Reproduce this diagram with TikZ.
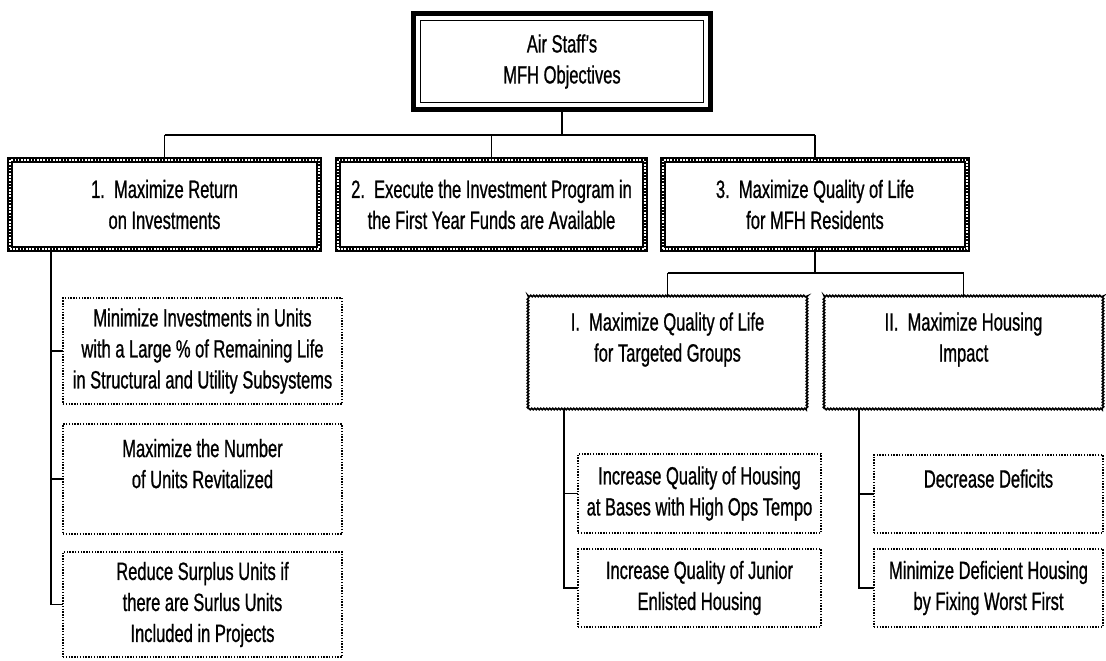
\documentclass[tikz,border=0pt]{standalone}
\usepackage{fontspec}
\setmainfont{Liberation Sans}[FakeStretch=0.66,FakeBold=0.8]
\usetikzlibrary{decorations.pathmorphing}
\begin{document}
\begin{tikzpicture}[x=1pt,y=-1pt,
  every node/.style={inner sep=0pt, outer sep=0pt, align=center,
    font=\fontsize{25}{31}\selectfont},
  conn/.style={line width=1.8pt, black},
  headbox/.style={draw, line width=4.5pt},
  chainbox/.style={draw, line width=6pt,
    postaction={draw=white, line width=2.2pt, dash pattern=on 1.6pt off 1.6pt}},
  wavybox/.style={draw, line width=1.5pt, decorate,
    decoration={zigzag, segment length=3pt, amplitude=0.8pt}},
  dotbox/.style={draw, line width=2pt, dash pattern=on 1.4pt off 1.4pt},
]
\fill[white] (0,0) rectangle (1106,661);
\useasboundingbox (0,0) rectangle (1106,661);

% root
\node[headbox, minimum width=297pt, minimum height=96pt] (top) at (562,61.5)
  {Air Staff's\\MFH Objectives};
\draw[line width=1.2pt] ([xshift=7pt,yshift=-7pt]top.north west)
  rectangle ([xshift=-7pt,yshift=7pt]top.south east);

% first level
\node[chainbox, minimum width=309pt, minimum height=89pt] (o1) at (164.5,204.5)
  {1.~~Maximize Return\\on Investments};
\node[chainbox, minimum width=307pt, minimum height=89pt] (o2) at (491.5,204.5)
  {2.~~Execute the Investment Program in\\the First Year Funds are Available};
\node[chainbox, minimum width=304pt, minimum height=89pt] (o3) at (815,204.5)
  {3.~~Maximize Quality of Life\\for MFH Residents};

% second level under 3
\node[wavybox, minimum width=279pt, minimum height=113pt] (q1) at (667.5,352.5)
  {I.~~Maximize Quality of Life\\for Targeted Groups\\\mbox{}};
\node[wavybox, minimum width=279pt, minimum height=113pt] (q2) at (963.5,352.5)
  {II.~~Maximize Housing\\Impact\\\mbox{}};

% leaves under 1
\node[dotbox, minimum width=279pt, minimum height=106pt] (a1) at (202.5,351)
  {Minimize Investments in Units\\with a Large \% of Remaining Life\\in Structural and Utility Subsystems};
\node[dotbox, minimum width=279pt, minimum height=110pt] (a2) at (202.5,479)
  {Maximize the Number\\of Units Revitalized\\\mbox{}};
\node[dotbox, minimum width=279pt, minimum height=105pt] (a3) at (202.5,604.5)
  {Reduce Surplus Units if\\there are Surlus Units\\Included in Projects};

% leaves under I
\node[dotbox, minimum width=243pt, minimum height=79pt] (b1) at (699.5,493.5)
  {Increase Quality of Housing\\at Bases with High Ops Tempo};
\node[dotbox, minimum width=243pt, minimum height=78pt] (b2) at (699.5,588)
  {Increase Quality of Junior\\Enlisted Housing};

% leaves under II
\node[dotbox, minimum width=229pt, minimum height=78pt] (c1) at (988.5,494)
  {Decrease Deficits\\\mbox{}};
\node[dotbox, minimum width=229pt, minimum height=78pt] (c2) at (988.5,588)
  {Minimize Deficient Housing\\by Fixing Worst First};

% connectors
\coordinate (bus1) at (0,135);
\coordinate (bus2) at (0,273);
\draw[conn] (top.south) -- (top.south |- bus1);
\draw[conn] (o1.north |- bus1) -- (o3.north |- bus1);
\draw[conn] (o1.north |- bus1) -- (o1.north);
\draw[conn] (o2.north |- bus1) -- (o2.north);
\draw[conn] (o3.north |- bus1) -- (o3.north);

\draw[conn] (o3.south) -- (o3.south |- bus2);
\draw[conn] (q1.north |- bus2) -- (q2.north |- bus2);
\draw[conn] (q1.north |- bus2) -- (q1.north);
\draw[conn] (q2.north |- bus2) -- (q2.north);

\draw[conn] ([xshift=-12pt]a3.west |- o1.south) |- (a3.west);
\draw[conn] ([xshift=-12pt]a1.west) -- (a1.west);
\draw[conn] ([xshift=-12pt]a2.west) -- (a2.west);

\draw[conn] ([xshift=-14pt]b2.west |- q1.south) |- (b2.west);
\draw[conn] ([xshift=-14pt]b1.west) -- (b1.west);

\draw[conn] ([xshift=-15pt]c2.west |- q2.south) |- (c2.west);
\draw[conn] ([xshift=-15pt]c1.west) -- (c1.west);
\end{tikzpicture}
\end{document}
